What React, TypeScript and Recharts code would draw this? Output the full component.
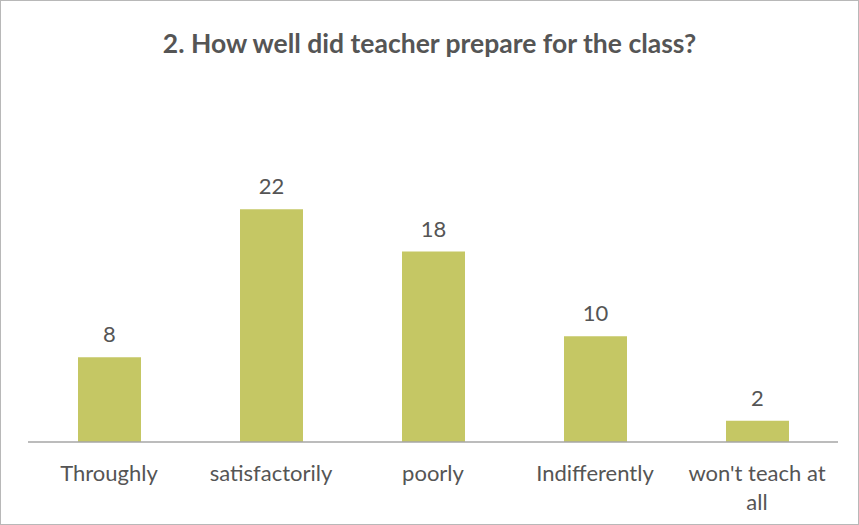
import { BarChart, Bar, XAxis, YAxis, LabelList } from 'recharts'

const categories = ['Throughly', 'satisfactorily', 'poorly', 'Indifferently', "won't teach at all"]
const counts = [8, 22, 18, 10, 2]

const data = categories.map((name, i) => ({ name, count: counts[i] }))

const FONT = 'Lato, "Open Sans", sans-serif'
const TEXT = '#555555'

// greedy word wrap by character count
function wrap(label: string, max = 15) {
  const lines: string[] = []
  let cur = ''
  label.split(' ').forEach(w => {
    const next = cur ? cur + ' ' + w : w
    if (next.length > max && cur) {
      lines.push(cur)
      cur = w
    } else {
      cur = next
    }
  })
  if (cur) lines.push(cur)
  return lines
}

function WrapTick(props: any) {
  const { x, y, payload } = props
  const lines = wrap(String(payload.value))
  return (
    <text
      x={x}
      y={y + 22}
      textAnchor="middle"
      dominantBaseline="central"
      style={{ fontFamily: FONT, fontSize: 22, fill: TEXT }}
    >
      {lines.map((l, i) => (
        <tspan key={i} x={x} dy={i === 0 ? 0 : 29}>
          {l}
        </tspan>
      ))}
    </text>
  )
}

export default function App() {
  return (
    <div
      style={{
        position: 'fixed',
        left: 0,
        top: 0,
        width: 857,
        height: 523,
        background: '#fff',
        border: '1px solid #b8b8b8',
        fontFamily: FONT,
      }}
    >
      <div
        style={{
          position: 'absolute',
          top: 26,
          left: 0,
          width: '100%',
          textAlign: 'center',
          fontSize: 26.5,
          fontWeight: 700,
          color: TEXT,
        }}
      >
        2. How well did teacher prepare for the class?
      </div>
      <BarChart
        width={857}
        height={523}
        data={data}
        margin={{ top: 187, right: 20, bottom: 22, left: 27 }}
        barSize={63}
      >
        <YAxis hide domain={[0, 24]} />
        <XAxis
          dataKey="name"
          height={60}
          axisLine={{ stroke: '#a6a6a6', strokeWidth: 1.5 }}
          tickLine={false}
          interval={0}
          tick={<WrapTick />}
        />
        <Bar dataKey="count" fill="#c5c764" isAnimationActive={false}>
          <LabelList
            dataKey="count"
            position="top"
            offset={15}
            style={{ fontFamily: FONT, fontSize: 22, fill: TEXT }}
          />
        </Bar>
      </BarChart>
    </div>
  )
}
